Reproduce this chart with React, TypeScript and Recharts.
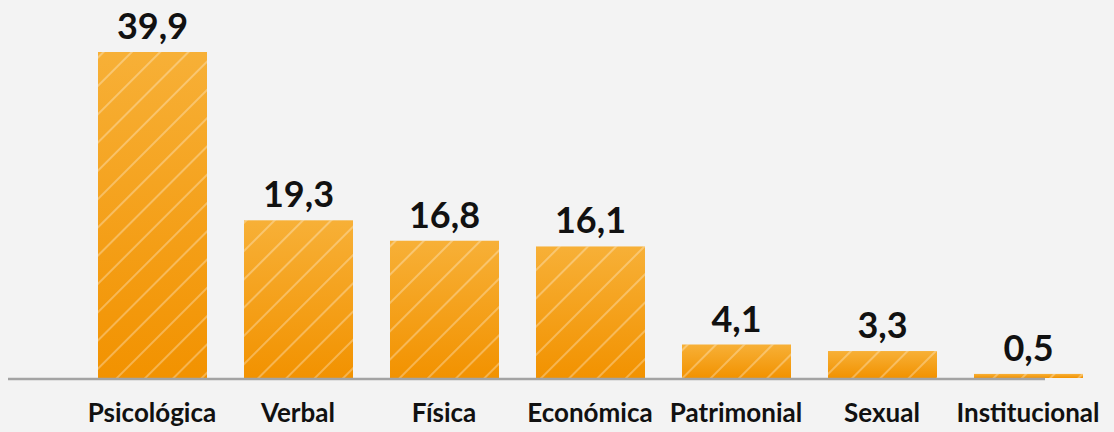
import React from 'react';
import { BarChart, Bar, XAxis, YAxis, LabelList, ReferenceLine } from 'recharts';

const categories = ['Psicológica', 'Verbal', 'Física', 'Económica', 'Patrimonial', 'Sexual', 'Institucional'];
const values = [39.9, 19.3, 16.8, 16.1, 4.1, 3.3, 0.5];

const data = categories.map((name, i) => ({ name, value: values[i] }));

const FONT = 'Lato, "Open Sans", sans-serif';

// orange bar with a vertical gradient and thin diagonal stripes on top
function StripedBar(props: any) {
  const { x, y, width, height } = props;
  if (!height || height <= 0) return null;
  return (
    <g>
      <rect x={x} y={y} width={width} height={height} fill="url(#barGradient)" />
      <rect x={x} y={y} width={width} height={height} fill="url(#barStripes)" />
    </g>
  );
}

// grey baseline, starting left of the plot and stopping inside the last bar
function Baseline(props: any) {
  const y = (props.y1 ?? 378) + 1;
  return <line x1={8} x2={1045} y1={y} y2={y} stroke="#a3a3a3" strokeWidth={2.5} />;
}

const formatValue = (v: any) => String(v).replace('.', ',');

export default function App() {
  return (
    <div
      style={{
        position: 'absolute',
        left: 0,
        top: 0,
        width: 1114,
        height: 432,
        background: '#f3f3f3',
        fontFamily: FONT,
      }}
    >
      <BarChart
        width={1114}
        height={432}
        data={data}
        margin={{ top: 52, right: 13, bottom: 0, left: 79 }}
      >
        <defs>
          <linearGradient id="barGradient" x1="0" y1="0" x2="0" y2="1">
            <stop offset="0%" stopColor="#f7b037" />
            <stop offset="100%" stopColor="#f29200" />
          </linearGradient>
          <pattern
            id="barStripes"
            patternUnits="userSpaceOnUse"
            width={20}
            height={20}
            patternTransform="rotate(45)"
          >
            <line x1={10} y1={0} x2={10} y2={20} stroke="#ffffff" strokeOpacity={0.5} strokeWidth={1.2} />
          </pattern>
        </defs>
        <XAxis
          dataKey="name"
          height={54}
          axisLine={false}
          tickLine={false}
          interval={0}
          tick={{ fill: '#111111', fontSize: 26, fontWeight: 700, fontFamily: FONT }}
          dy={18}
        />
        <YAxis hide domain={[0, 39.9]} />
        <Bar dataKey="value" barSize={109} shape={<StripedBar />} isAnimationActive={false}>
          <LabelList
            dataKey="value"
            position="top"
            offset={13}
            formatter={formatValue}
            style={{ fill: '#111111', fontSize: 36, fontWeight: 700, fontFamily: FONT }}
          />
        </Bar>
        <ReferenceLine y={0} ifOverflow="extendDomain" shape={<Baseline />} />
      </BarChart>
    </div>
  );
}
